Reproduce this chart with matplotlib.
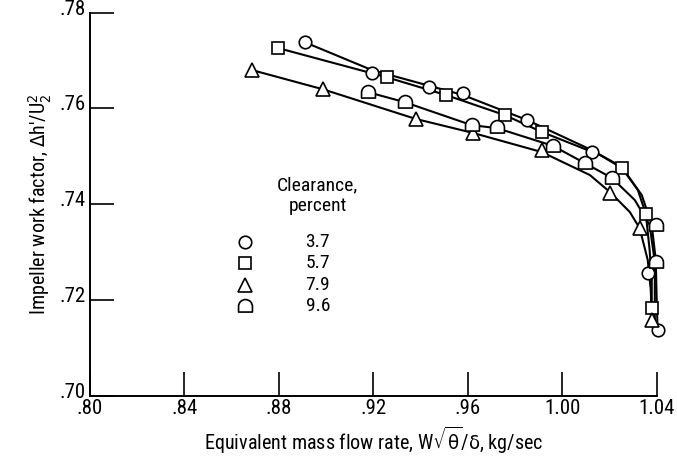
import numpy as np
import matplotlib
matplotlib.use("Agg")
import matplotlib.pyplot as plt
from matplotlib.path import Path
from matplotlib.transforms import ScaledTranslation

plt.rcParams['font.family'] = ['DejaVu Sans Condensed', 'Liberation Sans Narrow',
                               'Roboto Condensed', 'DejaVu Sans']
plt.rcParams['font.stretch'] = 'condensed'
plt.rcParams['mathtext.fontset'] = 'dejavusans'

# measured points, clearance in percent
clearance = ["3.7", "5.7", "7.9", "9.6"]

flow_37 = [0.8910, 0.9194, 0.9435, 0.9579, 0.9850, 1.0125, 1.0362, 1.0404]
work_37 = [0.7738, 0.7674, 0.7645, 0.7632, 0.7576, 0.7509, 0.7257, 0.7138]

flow_57 = [0.8796, 0.9257, 0.9507, 0.9757, 0.9913, 1.0252, 1.0354, 1.0379]
work_57 = [0.7726, 0.7665, 0.7628, 0.7586, 0.7551, 0.7476, 0.7380, 0.7184]

flow_79 = [0.8686, 0.8986, 0.9380, 0.9621, 0.9913, 1.0201, 1.0328, 1.0379]
work_79 = [0.7680, 0.7640, 0.7578, 0.7549, 0.7513, 0.7423, 0.7350, 0.7159]

flow_96 = [0.9177, 0.9333, 0.9617, 0.9723, 0.9960, 1.0095, 1.0210, 1.0396, 1.0396]
work_96 = [0.7634, 0.7613, 0.7565, 0.7561, 0.7522, 0.7486, 0.7455, 0.7357, 0.7280]

# faired curves
curve_x_37 = [0.8910, 0.9194, 0.9579, 0.9850, 1.0125, 1.0252, 1.0337, 1.0379, 1.0396, 1.0400, 1.0404]
curve_y_37 = [0.7738, 0.7680, 0.7628, 0.7576, 0.7513, 0.7478, 0.7419, 0.7357, 0.7284, 0.7200, 0.7138]

curve_x_57 = [0.8796, 0.9257, 0.9507, 0.9757, 0.9913, 1.0159, 1.0252, 1.0320, 1.0354, 1.0370, 1.0379, 1.0379]
curve_y_57 = [0.7726, 0.7665, 0.7628, 0.7586, 0.7551, 0.7503, 0.7476, 0.7430, 0.7380, 0.7305, 0.7242, 0.7184]

curve_x_79 = [0.8686, 0.8986, 0.9380, 0.9621, 0.9913, 1.0117, 1.0201, 1.0286, 1.0328, 1.0362, 1.0375, 1.0379]
curve_y_79 = [0.7680, 0.7640, 0.7578, 0.7549, 0.7509, 0.7461, 0.7426, 0.7384, 0.7350, 0.7284, 0.7221, 0.7159]

curve_x_96 = [0.9177, 0.9333, 0.9617, 0.9723, 0.9960, 1.0095, 1.0210, 1.0307, 1.0370, 1.0392, 1.0392, 1.0392]
curve_y_96 = [0.7634, 0.7613, 0.7565, 0.7559, 0.7522, 0.7486, 0.7455, 0.7409, 0.7357, 0.7280, 0.7200, 0.7148]

xticks = [0.80, 0.84, 0.88, 0.92, 0.96, 1.00, 1.04]
xtick_labels = [".80", ".84", ".88", ".92", ".96", "1.00", "1.04"]
yticks = [0.70, 0.72, 0.74, 0.76, 0.78]
ytick_labels = [".70", ".72", ".74", ".76", ".78"]

# "D" shaped marker: round top, flat bottom
arc = Path.arc(0, 180)
d_verts = np.concatenate([arc.vertices, [[-1.0, -0.8], [1.0, -0.8], [1.0, 0.0], [1.0, 0.0]]])
d_codes = np.concatenate([arc.codes, [Path.LINETO, Path.LINETO, Path.LINETO, Path.CLOSEPOLY]])
d_marker = Path(d_verts, d_codes)

fig = plt.figure(figsize=(6.77, 4.57), dpi=100)
ax = fig.add_axes([0.133, 0.1335, 0.837, 0.839])

series = [
    (flow_37, work_37, curve_x_37, curve_y_37, 'o', 9),
    (flow_57, work_57, curve_x_57, curve_y_57, 's', 8.5),
    (flow_79, work_79, curve_x_79, curve_y_79, '^', 9.5),
    (flow_96, work_96, curve_x_96, curve_y_96, d_marker, 10),
]
for fx, wy, cx, cy, mk, ms in series:
    ax.plot(cx, cy, color='black', lw=1.5, zorder=2, clip_on=False)
    ax.plot(fx, wy, ls='none', marker=mk, ms=ms, mfc='white', mec='black', mew=1.2,
            zorder=3, clip_on=False)

ax.set_xlim(0.80, 1.04)
ax.set_ylim(0.70, 0.78)
ax.set_xticks(xticks)
ax.set_xticklabels(xtick_labels)
ax.set_yticks(yticks)
ax.set_yticklabels(ytick_labels)
ax.tick_params(direction='in', length=17, width=1.2, labelsize=15, pad=2)
ax.tick_params(axis='y', pad=3)
# y labels sit a little above their ticks, as in the original
lift = ScaledTranslation(0, 4 / 72, fig.dpi_scale_trans)
for lab in ax.get_yticklabels():
    lab.set_transform(lab.get_transform() + lift)
for side in ['top', 'right']:
    ax.spines[side].set_visible(False)
for side in ['left', 'bottom']:
    ax.spines[side].set_linewidth(1.4)

ax.set_xlabel(r"Equivalent mass flow rate, W$\sqrt{\mathrm{\theta}}$/$\mathrm{\delta}$, kg/sec",
              fontsize=14.5, labelpad=5)
ax.set_ylabel(r"Impeller work factor, $\Delta$h'/U$_2^2$", fontsize=14.5, labelpad=4)

# key
ax.text(0.402, 0.522, "Clearance,\npercent", transform=ax.transAxes, ha='center', va='center',
        fontsize=14, linespacing=1.2)
key_y = [0.402, 0.347, 0.290, 0.235]
for (fx, wy, cx, cy, mk, ms), lab, ky in zip(series, clearance, key_y):
    ax.plot([0.273], [ky], transform=ax.transAxes, ls='none', marker=mk, ms=ms,
            mfc='white', mec='black', mew=1.2, clip_on=False)
    ax.text(0.402, ky, lab, transform=ax.transAxes, ha='center', va='center', fontsize=14)

fig.savefig("out.png", dpi=100)
